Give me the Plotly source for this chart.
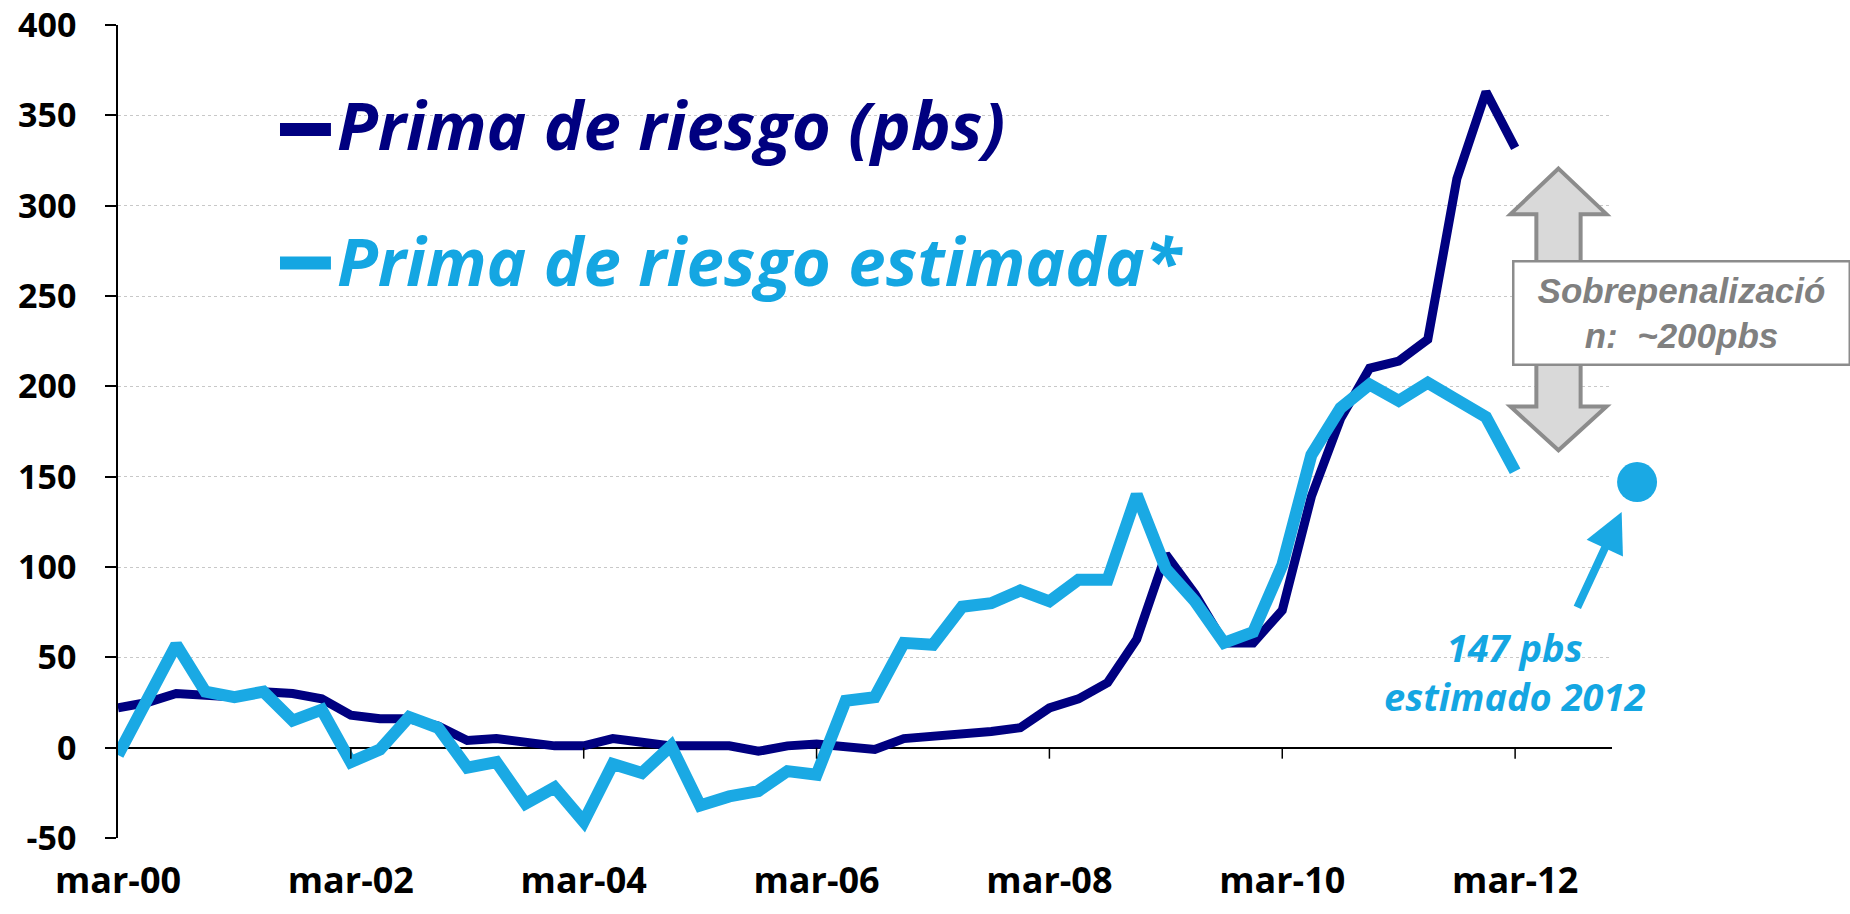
import plotly.graph_objects as go

# Quarterly observations, mar-00 .. mar-12 (index 0 = mar-00)
quarters = list(range(49))
tick_pos = [0, 8, 16, 24, 32, 40, 48]
tick_labels = ["mar-00", "mar-02", "mar-04", "mar-06", "mar-08", "mar-10", "mar-12"]
y_ticks = [-50, 0, 50, 100, 150, 200, 250, 300, 350, 400]
y_labels = ["-50", "0", "50", "100", "150", "200", "250", "300", "350", "400"]

prima_riesgo = [22, 25, 30, 29, 28, 31, 30, 27, 18, 16, 16, 12, 4, 5, 3, 1, 1, 5,
                3, 1, 1, 1, -2, 1, 2, 1, -1, 5, 6, 7, 9, 11, 22, 27, 36, 60, 107,
                85, 58, 58, 76, 139, 182, 210, 214, 226, 315, 363, 332]
prima_estimada = [-4, 26, 57, 31, 28, 31, 15, 21, -8, -1, 17, 11, -11, -8, -31, -22,
                  -41, -9, -14, 1, -32, -27, -24, -13, -15, 26, 28, 58, 57, 78, 80,
                  87, 81, 93, 93, 140, 99, 81, 58, 64, 101, 162, 188, 201, 192, 202,
                  193, 183, 153]
estimado_2012 = 147

NAVY = "#000080"
CYAN = "#1aa9e4"
CYAN_TXT = "#14a6e2"
GREY = "#808080"
AXIS_FONT = "Open Sans"
TEXT_FONT = "Open Sans"

X_MAX = 51.33          # category axis extent (quarters)
MAIN_DOMAIN = 0.9444   # share of the plotting area used by the category axis

fig = go.Figure()
fig.add_trace(go.Scatter(x=quarters, y=prima_riesgo, mode="lines",
                         line=dict(color=NAVY, width=9), hoverinfo="skip"))
fig.add_trace(go.Scatter(x=quarters, y=prima_estimada, mode="lines",
                         line=dict(color=CYAN, width=12), hoverinfo="skip"))
# 2012 estimate, on a companion x axis that reaches past the category axis
fig.add_trace(go.Scatter(x=[52.19], y=[estimado_2012], mode="markers",
                         xaxis="x2", yaxis="y2",
                         marker=dict(color=CYAN, size=40), hoverinfo="skip"))

shapes = []
# category tick marks hanging from the zero line
for t in tick_pos[1:]:
    shapes.append(dict(type="line", xref="x", yref="y", ysizemode="pixel",
                       yanchor=0, x0=t, x1=t, y0=0, y1=-11,
                       line=dict(color="black", width=1.5)))

# legend swatches
for ypos, col in [(0.8714, NAVY), (0.7074, CYAN_TXT)]:
    shapes.append(dict(type="line", xref="paper", yref="paper",
                       x0=0.1024, x1=0.1346, y0=ypos, y1=ypos,
                       line=dict(color=col, width=13)))

# grey double-headed arrow between the two series
cx, hw, sw = 49.49, 1.65, 0.76
top, top_base, bot, bot_base = 320.5, 295.3, 164.6, 188.8
path = (f"M {cx} {top} L {cx + hw} {top_base} L {cx + sw} {top_base} "
        f"L {cx + sw} {bot_base} L {cx + hw} {bot_base} L {cx} {bot} "
        f"L {cx - hw} {bot_base} L {cx - sw} {bot_base} L {cx - sw} {top_base} "
        f"L {cx - hw} {top_base} Z")
shapes.append(dict(type="path", xref="x", yref="y", path=path,
                   fillcolor="#d9d9d9", line=dict(color="#8c8c8c", width=4),
                   layer="above"))

annotations = [
    dict(text="Prima de riesgo (pbs)", xref="paper", yref="paper",
         x=0.1372, y=0.8781, xanchor="left", yanchor="middle", showarrow=False,
         font=dict(family=TEXT_FONT, size=67, color=NAVY, style="italic", weight=700)),
    dict(text="Prima de riesgo estimada*", xref="paper", yref="paper",
         x=0.1372, y=0.7115, xanchor="left", yanchor="middle", showarrow=False,
         font=dict(family=TEXT_FONT, size=67, color=CYAN_TXT, style="italic", weight=700)),
    dict(text="Sobrepenalizació<br>n:  ~200pbs", xref="paper", yref="paper",
         x=0.9883, y=0.6453, xanchor="center", yanchor="middle", showarrow=False,
         width=332, height=99, align="center", bgcolor="white",
         bordercolor="#8c8c8c", borderwidth=2.5,
         font=dict(family="Liberation Sans", size=35, color=GREY,
                   style="italic", weight=700)),
    dict(text="147 pbs<br>estimado 2012", xref="x", yref="y",
         x=47.97, y=42.3, xanchor="center", yanchor="middle", showarrow=False,
         align="center",
         font=dict(family=TEXT_FONT, size=38, color=CYAN_TXT, style="italic", weight=700)),
    dict(text="", xref="x2", yref="y2", x=51.66, y=130.5, showarrow=True,
         arrowhead=2, arrowsize=1, arrowwidth=8, arrowcolor=CYAN,
         ax=-45, ay=97, standoff=0),
]

fig.update_layout(
    width=1850, height=914,
    margin=dict(l=118, r=150, t=25, b=76),
    paper_bgcolor="white", plot_bgcolor="rgba(0,0,0,0)",
    showlegend=False,
    shapes=shapes, annotations=annotations,
    xaxis=dict(domain=[0, MAIN_DOMAIN], range=[0, X_MAX], anchor="y",
               tickvals=tick_pos, ticktext=tick_labels, automargin=False,
               showgrid=False, zeroline=False, showline=False, ticks="",
               ticklabelstandoff=18,
               tickfont=dict(family=AXIS_FONT, size=36, color="black", weight=700)),
    yaxis=dict(domain=[0, 1], range=[-50, 400], anchor="x",
               tickvals=y_ticks, ticktext=y_labels,
               automargin=False, ticklabeloverflow="allow",
               showgrid=True, gridcolor="#c8c8c8", griddash="dot", gridwidth=1,
               zeroline=True, zerolinecolor="black", zerolinewidth=1.5,
               showline=True, linecolor="black", linewidth=1.5,
               ticks="outside", ticklen=11, tickcolor="black", tickwidth=1.5,
               ticklabelstandoff=22,
               tickfont=dict(family=AXIS_FONT, size=34, color="black", weight=700)),
    xaxis2=dict(domain=[0, 1], range=[0, X_MAX / MAIN_DOMAIN], anchor="y2",
                visible=False, automargin=False),
    yaxis2=dict(domain=[0, 1], range=[-50, 400], anchor="x2",
                visible=False, automargin=False),
)

fig.write_html("out.html")
